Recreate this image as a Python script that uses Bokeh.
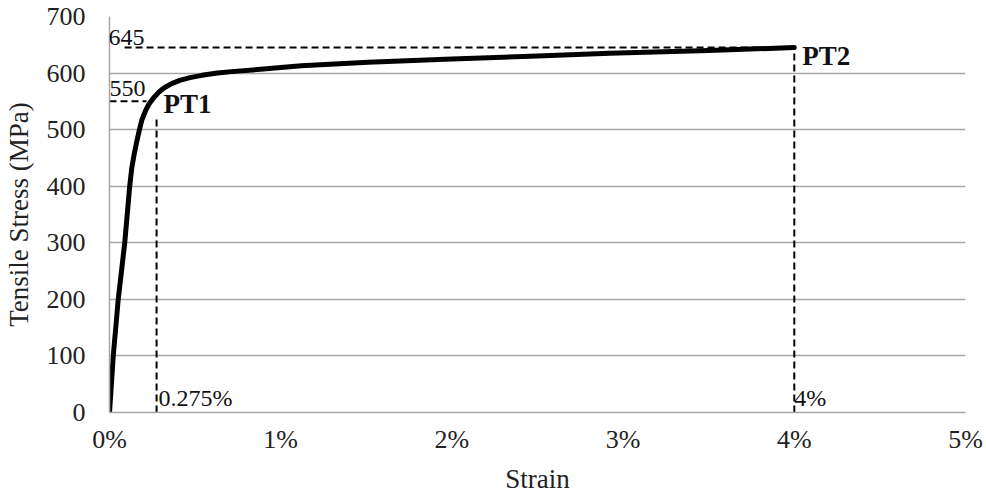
from bokeh.plotting import figure
from bokeh.models import Range1d, FixedTicker, PrintfTickFormatter, Label
from bokeh.embed import file_html
from bokeh.resources import INLINE

# Tensile test curve: strain (%) vs. stress (MPa)
strain = [0.0, 0.022, 0.051, 0.089, 0.118, 0.13, 0.145, 0.16, 0.175, 0.19,
          0.21, 0.23, 0.257, 0.287, 0.32, 0.36, 0.41, 0.47, 0.54, 0.63,
          0.73, 0.9, 1.12, 1.51, 2.0, 2.5, 2.92, 3.5, 4.0]
stress = [0, 100, 200, 300, 400, 432, 458, 480, 500, 518,
          533, 545, 556, 566, 574, 581, 587, 592, 596, 600,
          603, 607, 613, 619, 625, 630, 635, 640, 645]

# Marked points
pt1_strain, pt1_stress = 0.275, 550
pt2_strain, pt2_stress = 4.0, 645

x_ticks = [0, 1, 2, 3, 4, 5]
y_ticks = [0, 100, 200, 300, 400, 500, 600, 700]

SERIF = "Liberation Serif"

p = figure(width=986, height=497, output_backend="svg", toolbar_location=None,
           x_range=Range1d(0, 5), y_range=Range1d(0, 700))
p.min_border_left = 108
p.min_border_right = 21
p.min_border_top = 16
p.min_border_bottom = 85
p.outline_line_color = None
p.background_fill_color = "white"
p.border_fill_color = "white"

# Axes
p.xaxis.ticker = FixedTicker(ticks=x_ticks)
p.yaxis.ticker = FixedTicker(ticks=y_ticks)
p.xaxis.formatter = PrintfTickFormatter(format="%d%%")
for ax in (p.xaxis[0], p.yaxis[0]):
    ax.major_tick_line_color = None
    ax.minor_tick_line_color = None
    ax.major_tick_out = 0
    ax.major_tick_in = 0
    ax.axis_line_color = "#a6a6a6"
    ax.axis_line_width = 1.5
    ax.major_label_text_font = SERIF
    ax.major_label_text_font_size = "26px"
    ax.major_label_text_color = "#222222"
    ax.axis_label_text_font = SERIF
    ax.axis_label_text_font_style = "normal"
    ax.axis_label_text_color = "#222222"
    ax.axis_label_text_font_size = "27px"

p.xaxis.axis_label = "Strain"
p.yaxis.axis_label = "Tensile Stress (MPa)"
p.yaxis.major_label_standoff = 24
p.xaxis.major_label_standoff = 12
p.yaxis.axis_label_standoff = 10
p.xaxis.axis_label_standoff = 7

p.xgrid.grid_line_color = None
p.ygrid.grid_line_color = "#a6a6a6"
p.ygrid.grid_line_width = 1.5

# Guide lines for the marked points
dash = "7 4"
guide = dict(line_color="black", line_width=2, line_dash=dash)
p.line([0.088, pt2_strain], [pt2_stress, pt2_stress], **guide)
p.line([pt2_strain, pt2_strain], [0, pt2_stress], **guide)
p.line([0, 0.216], [pt1_stress, pt1_stress], **guide)
p.line([pt1_strain, pt1_strain], [0, 520], **guide)

# Stress-strain curve
p.line(strain, stress, line_color="black", line_width=5, line_join="round",
       line_cap="round")

def add_label(x, y, text, size="24px", bold=False, x_offset=0):
    p.add_layout(Label(x=x, y=y, text=text, x_offset=x_offset,
                       text_font=SERIF, text_font_size=size,
                       text_font_style="bold" if bold else "normal",
                       text_color="#111111", text_baseline="middle",
                       text_align="left"))

add_label(0, 663, str(pt2_stress), x_offset=-1)
add_label(0, 573, str(pt1_stress), x_offset=0)
add_label(0.316, 546, "PT1", size="27px", bold=True)
add_label(4.047, 631, "PT2", size="27px", bold=True)
add_label(pt1_strain, 25, f"{pt1_strain}%", x_offset=2)
add_label(pt2_strain, 25, f"{pt2_strain:g}%", x_offset=0)

open("out.html", "w").write(file_html(p, INLINE))
